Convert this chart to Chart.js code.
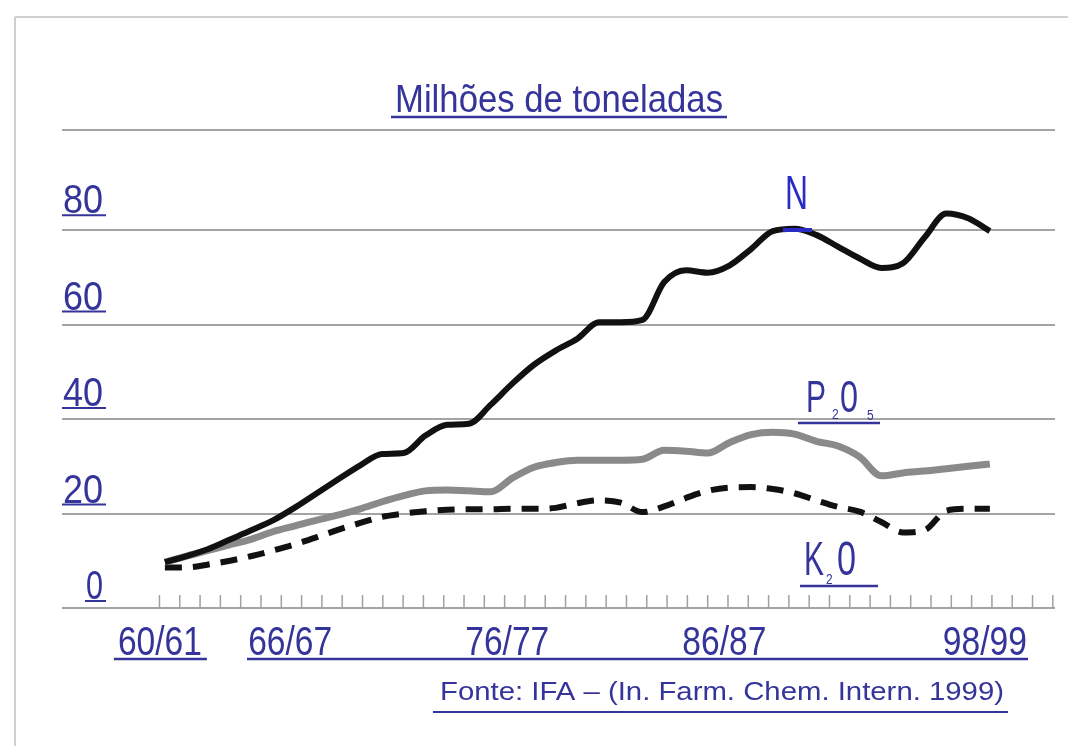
<!DOCTYPE html>
<html>
<head>
<meta charset="utf-8">
<script src="https://cdn.jsdelivr.net/npm/chart.js@4"></script>
<style>
  html, body { margin: 0; padding: 0; background: #fff; }
  #chart { display: block; }
</style>
</head>
<body>
<canvas id="chart" width="1068" height="746"></canvas>
<script>
// Seasons on the x axis (one per year)
const seasons = ['60/61','61/62','62/63','63/64','64/65','65/66','66/67','67/68','68/69','69/70',
  '70/71','71/72','72/73','73/74','74/75','75/76','76/77','77/78','78/79','79/80',
  '80/81','81/82','82/83','83/84','84/85','85/86','86/87','87/88','88/89','89/90',
  '90/91','91/92','92/93','93/94','94/95','95/96','96/97','97/98','98/99'];

// Consumption, millions of tonnes
const nitrogen = [9.7, 11, 12.5, 14.5, 16.5, 18.6, 21.3, 24.3, 27.3, 30.2,
  32.6, 32.8, 36.5, 38.8, 39, 43, 47.5, 51.5, 54.5, 57,
  60.5, 60.5, 61, 69, 71.5, 71, 72.5, 76, 79.8, 80.3,
  79, 76.5, 74, 72, 73, 78.5, 83.5, 82.5, 79.8];
const phosphate = [9.7, 11, 12.2, 13.4, 14.6, 16.2, 17.4, 18.6, 19.7, 21,
  22.5, 23.8, 24.8, 25, 24.8, 24.6, 27.5, 29.8, 30.8, 31.3,
  31.3, 31.3, 31.5, 33.4, 33.2, 32.8, 35, 36.7, 37.2, 36.8,
  35.3, 34.3, 32, 28, 28.6, 29, 29.5, 30, 30.5];
const potash = [8.6, 8.6, 9.2, 10, 11, 12.2, 13.5, 15, 16.6, 18,
  19.3, 20, 20.5, 20.8, 20.9, 20.9, 21, 21, 21.2, 22.2,
  22.8, 22.3, 20.3, 21.5, 23.3, 24.8, 25.5, 25.6, 25.2, 24.3,
  22.8, 21.4, 20.4, 18.2, 16, 16.5, 20.6, 21, 21];

const yTickValues = [0, 20, 40, 60, 80];
const yTop = 101.2;
const xTickLabels = ['60/61', '66/67', '76/77', '86/87', '98/99'];

const BLUE = '#34349a';
const FONT = '"Liberation Sans", Arial, sans-serif';

const toPoints = arr => arr.map((v, i) => ({ x: i, y: v }));

// Draws text squeezed horizontally (narrow look), with optional vertical stretch
function drawText(ctx, str, x, y, opt) {
    ctx.save();
    ctx.font = opt.font;
    ctx.fillStyle = opt.color || BLUE;
    ctx.textBaseline = 'alphabetic';
    ctx.textAlign = 'left';
    const raw = ctx.measureText(str).width;
    const sx = opt.width ? opt.width / raw : (opt.sx || 1);
    const w = raw * sx;
    let left = x;
    if (opt.align === 'center') left = x - w / 2;
    if (opt.align === 'right') left = x - w;
    ctx.translate(left, y);
    ctx.scale(sx, opt.sy || 1);
    ctx.fillText(str, 0, 0);
    ctx.restore();
    return { left, right: left + w };
}

function hLine(ctx, x0, x1, y, color, width) {
    ctx.save();
    ctx.strokeStyle = color;
    ctx.lineWidth = width;
    ctx.beginPath();
    ctx.moveTo(x0, y);
    ctx.lineTo(x1, y);
    ctx.stroke();
    ctx.restore();
}

const decorPlugin = {
    id: 'decor',
    beforeDraw(chart) {
        const ctx = chart.ctx;
        // paper frame
        hLine(ctx, 15, 1068, 17, '#cfcfcf', 2);
        ctx.save();
        ctx.strokeStyle = '#cfcfcf';
        ctx.lineWidth = 2;
        ctx.beginPath();
        ctx.moveTo(15, 17);
        ctx.lineTo(15, 746);
        ctx.stroke();
        ctx.restore();
    },
    afterDatasetsDraw(chart) {
        const ctx = chart.ctx;
        const xs = chart.scales.x;
        const ys = chart.scales.y;
        const y0 = ys.getPixelForValue(0);

        // small tick marks along the bottom axis
        const tStart = -0.25, tEnd = 40.9, nTicks = 44;
        ctx.save();
        ctx.strokeStyle = '#a0a0a0';
        ctx.lineWidth = 1.5;
        for (let k = 0; k <= nTicks; k++) {
            const px = xs.getPixelForValue(tStart + (tEnd - tStart) * k / nTicks);
            ctx.beginPath();
            ctx.moveTo(px, y0 - 13);
            ctx.lineTo(px, y0);
            ctx.stroke();
        }
        ctx.restore();

        // title
        drawText(ctx, 'Milhões de toneladas', 559, 112,
            { font: '39px ' + FONT, align: 'center', width: 328 });
        hLine(ctx, 391, 727, 117, BLUE, 2.5);

        // y labels, sitting above their grid lines
        yTickValues.forEach(v => {
            const gy = ys.getPixelForValue(v);
            const base = gy - 9 - v * 0.1;
            const r = drawText(ctx, String(v), 103, base,
                { font: '40px ' + FONT, align: 'right', width: v ? 40 : 17 });
            hLine(ctx, r.left - 1, 106, base + 2, BLUE, 2);
        });

        // x labels
        xTickLabels.forEach(lbl => {
            const px = xs.getPixelForValue(seasons.indexOf(lbl)) - 5;
            drawText(ctx, lbl, px, 655, { font: '40px ' + FONT, align: 'center', width: 84 });
        });
        const first = xs.getPixelForValue(0) - 5;
        hLine(ctx, first - 46, first + 47, 659, BLUE, 2.5);
        hLine(ctx, 247, 1028, 659, BLUE, 2.5);

        // source
        drawText(ctx, 'Fonte: IFA – (In. Farm. Chem. Intern. 1999)', 440, 700,
            { font: '26px ' + FONT, width: 564 });
        hLine(ctx, 433, 1008, 712, BLUE, 2);

        // series labels
        drawText(ctx, 'N', 785, 209, { font: '40px ' + FONT, color: '#2a2ac4', sy: 1.2, width: 23 });
        hLine(ctx, 783, 812, 230, '#2a2ac4', 4);

        const f = '40px ' + FONT;
        const fs = '15px ' + FONT;
        drawText(ctx, 'P', 806, 412, { font: f, sy: 1.1, width: 20 });
        drawText(ctx, '2', 832, 419, { font: fs, sx: 0.8 });
        drawText(ctx, '0', 840, 412, { font: f, sy: 1.1, width: 18 });
        drawText(ctx, '5', 867, 420, { font: fs, sx: 0.8 });
        hLine(ctx, 798, 880, 423, BLUE, 2.5);

        drawText(ctx, 'K', 804, 575, { font: f, sy: 1.2, width: 20 });
        drawText(ctx, '2', 826, 584, { font: fs, sx: 0.8 });
        drawText(ctx, '0', 837, 575, { font: f, sy: 1.2, width: 19 });
        hLine(ctx, 800, 878, 586, BLUE, 2.5);
    }
};

new Chart(document.getElementById('chart'), {
    type: 'line',
    data: {
        datasets: [
            {
                label: 'N',
                data: toPoints(nitrogen),
                borderColor: '#111111',
                borderWidth: 6,
                cubicInterpolationMode: 'monotone',
                pointRadius: 0
            },
            {
                label: 'P2O5',
                data: toPoints(phosphate),
                borderColor: '#8a8a8a',
                borderWidth: 7,
                cubicInterpolationMode: 'monotone',
                pointRadius: 0
            },
            {
                label: 'K2O',
                data: toPoints(potash),
                borderColor: '#111111',
                borderWidth: 6,
                borderDash: [17, 11],
                cubicInterpolationMode: 'monotone',
                pointRadius: 0
            }
        ]
    },
    options: {
        responsive: false,
        animation: false,
        devicePixelRatio: 1,
        layout: { padding: { left: 62, right: 13, top: 130, bottom: 130 } },
        scales: {
            x: {
                type: 'linear',
                min: -4.74,
                max: 41,
                ticks: { display: false },
                grid: { display: false },
                border: { display: false }
            },
            y: {
                min: 0,
                max: yTop,
                afterBuildTicks: axis => {
                    axis.ticks = yTickValues.concat([yTop]).map(v => ({ value: v }));
                },
                ticks: { display: false },
                grid: { color: '#a4a4a4', lineWidth: 2, drawTicks: false },
                border: { display: false }
            }
        },
        plugins: {
            legend: { display: false },
            tooltip: { enabled: false }
        }
    },
    plugins: [decorPlugin]
});
</script>
</body>
</html>
